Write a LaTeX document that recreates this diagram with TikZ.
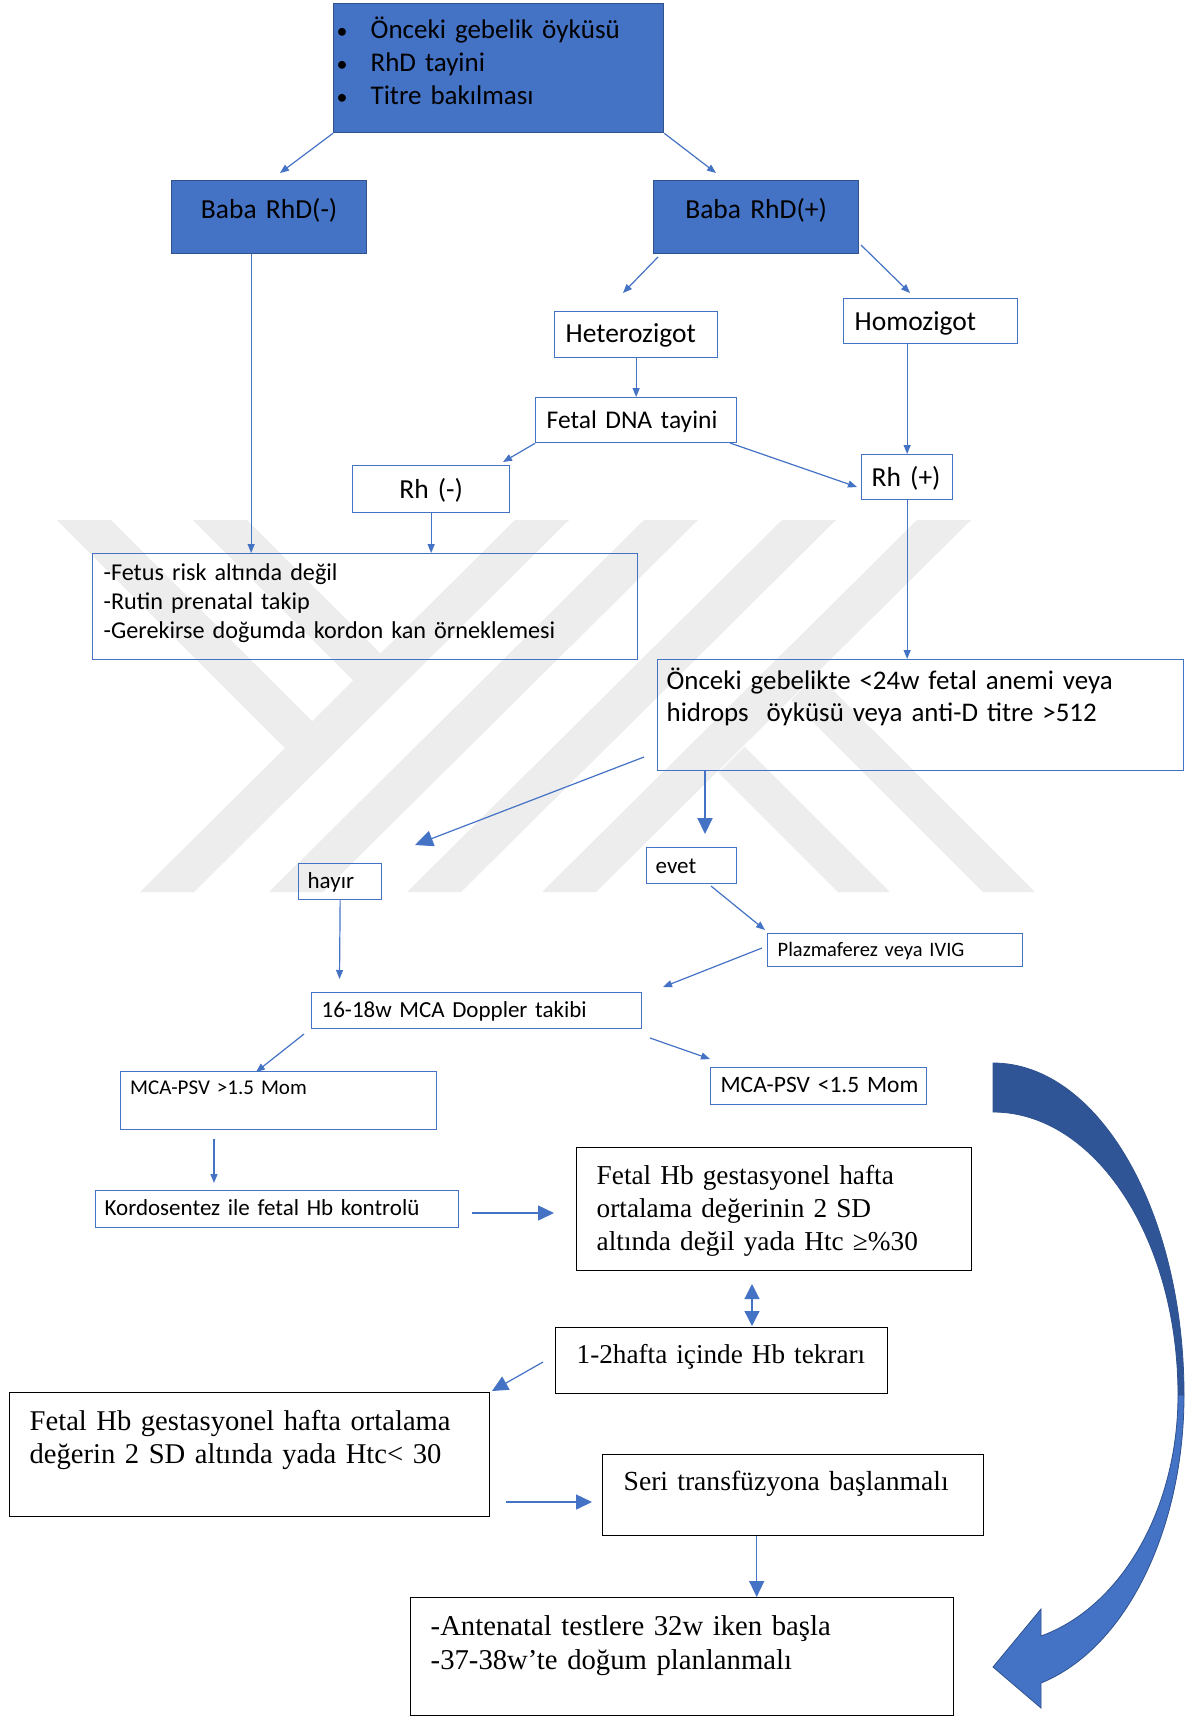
\documentclass[tikz,border=0pt]{standalone}
\usepackage{fontspec}
\setmainfont{Carlito}
\newfontfamily\timesfont{Liberation Serif}
\usetikzlibrary{arrows.meta}

\definecolor{boxblue}{HTML}{4472C4}
\definecolor{edgeblue}{HTML}{2F528F}
\definecolor{backband}{HTML}{2F5597}
\definecolor{markgray}{HTML}{EDEDED}

\newcommand{\blt}{\makebox[34pt][l]{\fontsize{22}{22}\selectfont\textbullet}}

\tikzset{
  box/.style={draw=boxblue, line width=1.3pt, anchor=north west, inner ysep=0pt, align=left},
  solidbox/.style={box, draw=edgeblue, fill=boxblue},
  serifbox/.style={box, draw=black, line width=1.4pt},
  link/.style={draw=boxblue, line width=1.2pt, -{Triangle[length=9pt,width=7pt]}},
  boldlink/.style={draw=boxblue, line width=1.5pt, -{Triangle[length=16pt,width=15pt]}},
}

\begin{document}
\begin{tikzpicture}[x=1pt,y=-1pt]
        \path[use as bounding box, fill=white] (0,0) rectangle (1188,1717);
        % Watermark bands
        \foreach \t/\b in {515/140, 644/269, 782/407, 917/542}
          \fill[markgray] (\t,520) -- (\t+54,520) -- (\b+54,892) -- (\b,892) -- cycle;
        \fill[markgray] (57,520) -- (111,520) -- (313,722) -- (286,749) -- cycle;
        \fill[markgray] (193,520) -- (247,520) -- (381,654) -- (354,681) -- cycle;
        \fill[markgray] (838,892) -- (890,892) -- (744.5,746.5) -- (718.5,772.5) -- cycle;
        \fill[markgray] (983,892) -- (1035,892) -- (817,674) -- (791,700) -- cycle;

        % Blue boxes
        \node[solidbox, font=\fontsize{27}{33}\selectfont, inner xsep=3pt, text width=324pt,
              text height=35pt, text depth=94pt] (start) at (333,3)
              {\blt Önceki gebelik öyküsü\\ \blt RhD tayini\\ \blt Titre bakılması};
        \node[solidbox, font=\fontsize{27.5}{33}\selectfont, align=center, inner xsep=5pt,
              text width=185pt, text height=38pt, text depth=35pt] (babaneg) at (171,180) {Baba RhD(-)};
        \node[solidbox, font=\fontsize{27.5}{33}\selectfont, align=center, inner xsep=5pt,
              text width=195pt, text height=38pt, text depth=35pt] (babapos) at (653,180) {Baba RhD(+)};

        % Upper white boxes
        \node[box, font=\fontsize{27.5}{33}\selectfont, inner xsep=11pt, text width=141pt,
              text height=31pt, text depth=15pt] (hetero) at (554,311) {\mbox{Heterozigot}};
        \node[box, font=\fontsize{27.5}{33}\selectfont, inner xsep=11pt, text width=152pt,
              text height=31.5pt, text depth=13.5pt] (homo) at (843,298) {\mbox{Homozigot}};
        \node[box, font=\fontsize{25.5}{31}\selectfont, inner xsep=11pt, text width=179pt,
              text height=31pt, text depth=14pt] (fetaldna) at (535,397) {\mbox{Fetal DNA tayini}};
        \node[box, font=\fontsize{27.5}{33}\selectfont, align=center, inner xsep=5pt, text width=147pt,
              text height=32.5pt, text depth=14.5pt] (rhneg) at (352,465) {Rh (-)};
        \node[box, font=\fontsize{27.5}{33}\selectfont, inner xsep=10pt, text width=71pt,
              text height=31.5pt, text depth=13.5pt] (rhpos) at (861,454) {\mbox{Rh (+)}};
        \node[box, font=\fontsize{24.2}{29}\selectfont, inner xsep=11pt, text width=523pt,
              text height=27pt, text depth=79pt] (fetus) at (92,553)
              {-Fetus risk altında değil\\ -Rutin prenatal takip\\ -Gerekirse doğumda kordon kan örneklemesi};
        \node[box, font=\fontsize{26.9}{32}\selectfont, inner xsep=9pt, text width=508pt,
              text height=30pt, text depth=81pt] (onceki) at (657,659)
              {Önceki gebelikte <24w fetal anemi veya\\ hidrops~ öyküsü veya anti-D titre >512};

        % Middle white boxes
        \node[box, font=\fontsize{23}{28}\selectfont, inner xsep=9pt, text width=65pt,
              text height=25pt, text depth=11pt] (hayir) at (298,863) {hayır};
        \node[box, font=\fontsize{23}{28}\selectfont, inner xsep=9pt, text width=72pt,
              text height=26pt, text depth=10pt] (evet) at (646,847) {evet};
        \node[box, font=\fontsize{20.5}{25}\selectfont, inner xsep=10pt, text width=235pt,
              text height=23pt, text depth=10pt] (plazma) at (767,933) {\mbox{Plazmaferez veya IVIG}};
        \node[box, font=\fontsize{23}{28}\selectfont, inner xsep=10pt, text width=310pt,
              text height=24.5pt, text depth=11.5pt] (doppler) at (311,992) {\mbox{16-18w MCA Doppler takibi}};
        \node[box, font=\fontsize{21}{26}\selectfont, inner xsep=9.5pt, text width=297pt,
              text height=23pt, text depth=35pt] (mcahigh) at (120,1071) {\mbox{MCA-PSV >1.5 Mom}};
        \node[box, font=\fontsize{23.5}{28}\selectfont, inner xsep=10pt, text width=196pt,
              text height=25pt, text depth=12pt] (mcalow) at (710,1067) {\mbox{MCA-PSV <1.5 Mom}};
        \node[box, font=\fontsize{23}{28}\selectfont, inner xsep=9pt, text width=345pt,
              text height=25pt, text depth=12pt] (kordo) at (95,1190) {\mbox{Kordosentez ile fetal Hb kontrolü}};

        % Lower boxes (serif)
        \node[serifbox, font=\timesfont\fontsize{27.3}{33}\selectfont, inner xsep=20pt, text width=355pt,
              text height=37pt, text depth=86pt] (hbok) at (576,1147)
              {Fetal Hb gestasyonel hafta\\ ortalama değerinin 2 SD\\ altında değil yada Htc ≥\%30};
        \node[serifbox, font=\timesfont\fontsize{27.2}{33}\selectfont, inner xsep=21pt, text width=290pt,
              text height=36pt, text depth=30pt] (hbtekrar) at (555,1327) {\mbox{1-2hafta içinde Hb tekrarı}};
        \node[serifbox, font=\timesfont\fontsize{28.6}{33}\selectfont, inner xsep=20pt, text width=440pt,
              text height=38pt, text depth=86pt] (hblow) at (9,1392)
              {Fetal Hb gestasyonel hafta ortalama\\ değerin 2 SD altında yada Htc< 30};
        \node[serifbox, font=\timesfont\fontsize{27.6}{33}\selectfont, inner xsep=21pt, text width=339pt,
              text height=36pt, text depth=45pt] (seri) at (602,1454) {\mbox{Seri transfüzyona başlanmalı}};
        \node[serifbox, font=\timesfont\fontsize{28.7}{34}\selectfont, inner xsep=20pt, text width=503pt,
              text height=38pt, text depth=80pt] (antenatal) at (410,1597)
              {-Antenatal testlere 32w iken başla\\ -37-38w’te doğum planlanmalı};

        % Free arrow ends
        \coordinate (negend) at (280,173);
        \coordinate (posend) at (716,173);
        \coordinate (hetstart) at (658,257);
        \coordinate (hetend) at (623,293);
        \coordinate (homstart) at (861,245);
        \coordinate (homend) at (910,293);
        \coordinate (dnaneg) at (503,462);
        \coordinate (dnaright) at (730,443);
        \coordinate (dnapos) at (857,487);
        \coordinate (nostart) at (644,757);
        \coordinate (noend) at (415,845);
        \coordinate (yesend) at (705,834);
        \coordinate (yesstart) at (711,886);
        \coordinate (plazin) at (765,930);
        \coordinate (plazout) at (762,948);
        \coordinate (doppin) at (663,987);
        \coordinate (nodown) at (339.5,979);
        \coordinate (highstart) at (304,1034);
        \coordinate (highend) at (256,1072);
        \coordinate (lowstart) at (650,1038);
        \coordinate (lowend) at (710,1059);
        \coordinate (kordoin) at (214,1139);
        \coordinate (kordoend) at (214,1183);
        \coordinate (okstart) at (472,1213);
        \coordinate (okend) at (554,1213);
        \coordinate (againtop) at (752,1284);
        \coordinate (againbot) at (752,1326);
        \coordinate (lowhbstart) at (543,1362);
        \coordinate (lowhbend) at (492,1391);
        \coordinate (serstart) at (506,1502);
        \coordinate (serend) at (592,1502);

        % Thin connectors
        \draw[link] (start.south west) -- (negend);
        \draw[link] (start.south east) -- (posend);
        \draw[link] ([xshift=-18pt]babaneg.south) -- ([xshift=-18pt]babaneg.south |- fetus.north);
        \draw[link] (hetstart) -- (hetend);
        \draw[link] (homstart) -- (homend);
        \draw[link] (hetero.south) -- (fetaldna.north);
        \draw[link] (rhpos.north |- homo.south) -- (rhpos.north);
        \draw[link] (fetaldna.south west) -- (dnaneg);
        \draw[link] (dnaright) -- (dnapos);
        \draw[link] (rhneg.south) -- (rhneg.south |- fetus.north);
        \draw[link] (rhpos.south) -- (rhpos.south |- onceki.north);
        \draw[link] (yesstart) -- (plazin);
        \draw[link] (plazout) -- (doppin);
        \draw[link] (hayir.south) -- (nodown);
        \draw[link] (highstart) -- (highend);
        \draw[link] (lowstart) -- (lowend);
        \draw[link] (kordoin) -- (kordoend);

        % Bold connectors
        \draw[boldlink, line width=1.2pt, -{Triangle[length=18pt,width=16pt]}] (nostart) -- (noend);
        \draw[boldlink, line width=2pt] ([xshift=48pt]onceki.south west) -- (yesend);
        \draw[boldlink] (okstart) -- (okend);
        \draw[boldlink, line width=1.2pt, {Triangle[length=15pt,width=15pt]}-{Triangle[length=15pt,width=15pt]}] (againtop) -- (againbot);
        \draw[boldlink, line width=1.2pt] (lowhbstart) -- (lowhbend);
        \draw[boldlink] (serstart) -- (serend);
        \draw[boldlink] ([xshift=-36.5pt]seri.south) -- ([xshift=-36.5pt]seri.south |- antenatal.north);

        % Curved arrow on the right
        \filldraw[fill=backband, draw=edgeblue, line width=0.8pt]
          (993,1063) .. controls (1098.5,1063) and (1184,1211.6) .. (1184,1395)
          -- (1178,1395) .. controls (1178,1238.7) and (1095.2,1112) .. (993,1112) -- cycle;
        \filldraw[fill=boxblue, draw=edgeblue, line width=0.8pt]
          (1184,1395) .. controls (1184,1530.6) and (1125.1,1649) .. (1041,1683)
          -- (1041,1708) -- (993,1667) -- (1041,1609) -- (1041,1636)
          .. controls (1121.9,1606.6) and (1178,1507.9) .. (1178,1395) -- cycle;
    \end{tikzpicture}
\end{document}
